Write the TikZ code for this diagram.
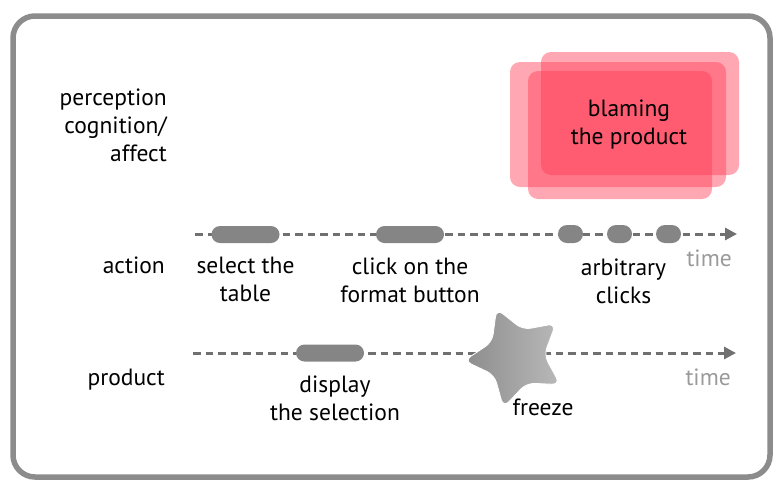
\documentclass[tikz,border=0pt]{standalone}
\usepackage{fontspec}
\setmainfont{PT Sans}
\usetikzlibrary{positioning,shapes.geometric,arrows.meta}

\definecolor{framegray}{HTML}{8C8C8C}
\definecolor{linegray}{HTML}{707070}
\definecolor{pillgray}{HTML}{858585}
\definecolor{timegray}{HTML}{9A9A9A}
\definecolor{blamered}{RGB}{255,60,85}

\tikzset{
    lbl/.style={align=center, font=\fontsize{23.5}{28}\selectfont, inner sep=1pt},
    rowlbl/.style={lbl, align=right, anchor=east},
    timelbl/.style={font=\fontsize{23.5}{28}\selectfont, text=timegray, inner sep=1pt},
    timeline/.style={linegray, line width=3pt, dash pattern=on 7.5pt off 5pt, -{Triangle[length=12pt,width=12pt]}},
    pill/.style={fill=pillgray, rounded corners=8.5pt, minimum width=68pt, minimum height=17pt, inner sep=0pt},
    dotpill/.style={pill, minimum width=25pt, minimum height=18pt, rounded corners=9pt},
    blamebox/.style={fill=blamered, fill opacity=0.45, rounded corners=10pt, inner sep=0pt},
}

\begin{document}
\begin{tikzpicture}[x=1pt, y=-1pt, every node/.style={node distance=13pt}]
    \useasboundingbox (0,0) rectangle (773,480);
    \draw[framegray, line width=5.5pt, rounded corners=22pt] (13,16) rectangle (770,477);

    \node[rowlbl] (perc) at (168,125) {perception\\cognition/\\affect};
    \node[rowlbl] (act) at (166,265) {action};
    \node[rowlbl] (prod) at (166,380) {product};

    \node[blamebox, minimum width=198pt, minimum height=123pt] (blameA) at (640,113.5) {};
    \node[blamebox, minimum width=216pt, minimum height=125pt] (blameB) at (618,124.5) {};
    \node[blamebox, minimum width=184pt, minimum height=128pt] (blameC) at (620,135) {};
    \node[lbl] (blame) at (629,125) {blaming\\the product};

    \coordinate (actstart) at (195,234);
    \coordinate (actend) at (737,234);
    \draw[timeline] (actstart) -- (actend);
    \node[pill] (selpill) at (245.5,234.5) {};
    \node[pill] (fmtpill) at (410,234.5) {};
    \node[dotpill] (click1) at (570.5,234) {};
    \node[dotpill] (click2) at (619.5,234) {};
    \node[dotpill] (click3) at (668.5,234) {};
    \node[lbl, below=of selpill] (sel) {select the\\table};
    \node[lbl, below=of fmtpill] (fmt) {click on the\\format button};
    \node[lbl, below=14pt of click2, xshift=4pt] (clicks) {arbitrary\\clicks};
    \node[timelbl, below left=15pt and 4pt of actend] (acttime) {time};

    \coordinate (prodstart) at (193,353);
    \coordinate (prodend) at (736,353);
    \draw[timeline] (prodstart) -- (prodend);
    \node[pill] (disppill) at (330,353) {};
    \node[lbl, below=of disppill, xshift=5pt] (disp) {display\\the selection};
    \node[star, star points=5, star point ratio=1.85, minimum size=104pt, inner sep=0pt,
        shape border rotate=22, rounded corners=8pt, left color=gray!90, right color=gray!55,
        draw=white, line width=0.8pt] (freezestar) at (516,357) {};
    \node[lbl] (freeze) at (543,407) {freeze};
    \node[timelbl, below left=15pt and 4pt of prodend] (prodtime) {time};
\end{tikzpicture}
\end{document}
